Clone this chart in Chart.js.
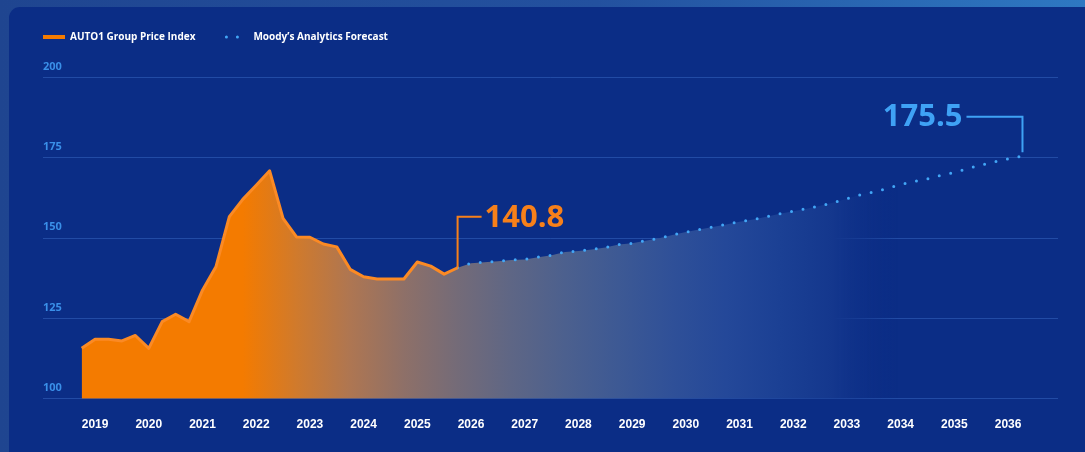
<!DOCTYPE html>
<html>
    <head>
        <title>AUTO1 Group Price Index</title>
        <meta charset="utf-8" />
        <script src="https://cdn.jsdelivr.net/npm/chart.js@4.4.1/dist/chart.umd.min.js"></script>
        <style>
            * {
                margin: 0;
                padding: 0;
                box-sizing: border-box;
            }
            html, body {
                width: 1085px;
                height: 452px;
                overflow: hidden;
            }
            body {
                position: relative;
                background: linear-gradient(90deg, #1f4590 0%, #23519f 55%, #2e78c2 100%);
            }
            #card {
                position: absolute;
                left: 9px;
                top: 7px;
                width: 1100px;
                height: 470px;
                background-color: #0b2d86;
                border-radius: 11px;
            }
            #wrap {
                position: absolute;
                left: 0;
                top: 0;
                width: 1085px;
                height: 452px;
            }
        </style>
    </head>
    <body>

        <div id="card"></div>
        <div id="wrap">
            <canvas id="myChart"></canvas>
        </div>

        <script>
            // quarterly index, 2019 Q1 = first point
            const historyQuarters = [
                '2019Q1', '2019Q2', '2019Q3', '2019Q4',
                '2020Q1', '2020Q2', '2020Q3', '2020Q4',
                '2021Q1', '2021Q2', '2021Q3', '2021Q4',
                '2022Q1', '2022Q2', '2022Q3', '2022Q4',
                '2023Q1', '2023Q2', '2023Q3', '2023Q4',
                '2024Q1', '2024Q2', '2024Q3', '2024Q4',
                '2025Q1', '2025Q2', '2025Q3', '2025Q4',
                '2026Q1'
            ];
            const historyValues = [
                115.7, 118.5, 118.5, 118.0,
                119.7, 115.7, 124.0, 126.3,
                124.0, 133.8, 141.1, 156.7,
                162.1, 166.5, 171.0, 156.2,
                150.4, 150.3, 148.2, 147.3,
                140.3, 138.0, 137.3, 137.3,
                137.3, 142.6, 141.3, 138.8,
                140.8
            ];

            const forecastQuarters = [
                '2026Q1', '2026Q2', '2026Q3', '2026Q4',
                '2027Q1', '2027Q2', '2027Q3', '2027Q4',
                '2028Q1', '2028Q2', '2028Q3', '2028Q4',
                '2029Q1', '2029Q2', '2029Q3', '2029Q4',
                '2030Q1', '2030Q2', '2030Q3', '2030Q4',
                '2031Q1', '2031Q2', '2031Q3', '2031Q4',
                '2032Q1', '2032Q2', '2032Q3', '2032Q4',
                '2033Q1', '2033Q2', '2033Q3', '2033Q4',
                '2034Q1', '2034Q2', '2034Q3', '2034Q4',
                '2035Q1', '2035Q2', '2035Q3', '2035Q4',
                '2036Q1', '2036Q2', '2036Q3'
            ];
            const forecastValues = [
                140.8, 142.2, 142.5, 142.8,
                143.2, 143.4, 144.1, 144.7,
                145.7, 146.0, 146.5, 147.1,
                148.0, 148.4, 149.2, 150.0,
                151.0, 151.9, 152.7, 153.5,
                154.3, 155.1, 155.8, 156.7,
                157.6, 158.4, 159.2, 160.1,
                161.1, 162.3, 163.5, 164.4,
                165.5, 166.7, 167.7, 168.5,
                169.6, 170.5, 171.7, 172.8,
                173.8, 174.7, 175.5
            ];

            const yearLabels = [
                '2019', '2020', '2021', '2022', '2023', '2024', '2025', '2026', '2027',
                '2028', '2029', '2030', '2031', '2032', '2033', '2034', '2035', '2036'
            ];
            const yTicks = [100, 125, 150, 175, 200];

            const seriesNames = ['AUTO1 Group Price Index', "Moody\u2019s Analytics Forecast"];

            // colours of the area under both lines, left to right
            const fillStops = [
                [2019, '#f47b00'],
                [2022, '#f47b00'],
                [2023, '#d07a2c'],
                [2024, '#ae7652'],
                [2025, '#8e7068'],
                [2026, '#746b78'],
                [2027, '#5e6685'],
                [2028, '#4c608e'],
                [2029, '#3d5994'],
                [2030, '#2f5098'],
                [2031, '#244899'],
                [2032, '#1b4094'],
                [2033, '#14378d'],
                [2034.2, 'rgba(11,45,134,0)']
            ];

            const toYear = q => parseInt(q.slice(0, 4)) + (parseInt(q.slice(5)) - 1) / 4;

            const areaFill = context => {
                const chart = context.chart;
                const area = chart.chartArea;
                if (!area) return 'transparent';
                const g = chart.ctx.createLinearGradient(area.left, 0, area.right, 0);
                const w = area.right - area.left;
                fillStops.forEach(([yr, col]) => {
                    let p = (chart.scales.x.getPixelForValue(yr) - area.left) / w;
                    g.addColorStop(Math.min(Math.max(p, 0), 1), col);
                });
                return g;
            };

            const historyPoints = historyQuarters.map((q, i) => ({ x: toYear(q), y: historyValues[i] }));
            const forecastPoints = forecastQuarters.map((q, i) => ({ x: toYear(q), y: forecastValues[i] }));

            const data = {
                datasets: [{
                    label: seriesNames[0],
                    data: historyPoints,
                    borderColor: '#fb8a24',
                    borderWidth: 3,
                    borderJoinStyle: 'round',
                    fill: false,
                    pointRadius: 0,
                    tension: 0
                }, {
                    label: seriesNames[1],
                    data: forecastPoints,
                    borderColor: '#42a6f6',
                    borderWidth: 3,
                    borderDash: [0, 11.7],
                    borderCapStyle: 'round',
                    fill: false,
                    pointRadius: 0,
                    tension: 0
                }, {
                    // one shaded area under both series, so there is no seam at 2026
                    label: 'area',
                    data: historyPoints.slice(0, -1).concat(forecastPoints),
                    borderWidth: 0,
                    borderColor: 'transparent',
                    backgroundColor: areaFill,
                    fill: 'start',
                    pointRadius: 0,
                    tension: 0
                }]
            };

            // value call-outs at the end of each line
            const callouts = {
                id: 'callouts',
                afterDatasetsDraw(chart) {
                    const ctx = chart.ctx;
                    const h = chart.getDatasetMeta(0).data;
                    const f = chart.getDatasetMeta(1).data;
                    const p1 = h[h.length - 1];
                    const p2 = f[f.length - 1];
                    ctx.save();
                    ctx.lineWidth = 2;
                    ctx.font = "bold 31px 'Open Sans', sans-serif";
                    ctx.textBaseline = 'middle';

                    ctx.strokeStyle = '#f7801a';
                    ctx.fillStyle = '#f7801a';
                    ctx.beginPath();
                    ctx.moveTo(p1.x, p1.y);
                    ctx.lineTo(p1.x, p1.y - 51);
                    ctx.lineTo(p1.x + 24, p1.y - 51);
                    ctx.stroke();
                    ctx.textAlign = 'left';
                    ctx.fillText(historyValues[historyValues.length - 1].toFixed(1), p1.x + 27, p1.y - 50);

                    ctx.strokeStyle = '#3fa2f5';
                    ctx.fillStyle = '#3fa2f5';
                    ctx.beginPath();
                    ctx.moveTo(p2.x + 1, p2.y - 4);
                    ctx.lineTo(p2.x + 1, p2.y - 39.5);
                    ctx.lineTo(p2.x - 55, p2.y - 39.5);
                    ctx.stroke();
                    ctx.textAlign = 'right';
                    ctx.fillText(forecastValues[forecastValues.length - 1].toFixed(1), p2.x - 59, p2.y - 39);
                    ctx.restore();
                }
            };

            // extra room under the legend
            const legendSpacer = {
                id: 'legendSpacer',
                beforeInit(chart) {
                    const fit = chart.legend.fit;
                    chart.legend.fit = function () {
                        fit.bind(chart.legend)();
                        this.height += 25.7;
                    };
                }
            };

            const chartConfig = {
                type: 'line',
                data,
                options: {
                    responsive: true,
                    maintainAspectRatio: false,
                    animation: false,
                    devicePixelRatio: 1,
                    layout: {
                        padding: { left: 12, right: 27, top: 1, bottom: 0 }
                    },
                    plugins: {
                        tooltip: { enabled: false },
                        legend: {
                            position: 'top',
                            align: 'start',
                            labels: {
                                color: '#ffffff',
                                font: { family: "'Open Sans', sans-serif", size: 10, weight: 'bold' },
                                usePointStyle: true,
                                pointStyleWidth: 22,
                                padding: 31,
                                generateLabels: chart => chart.data.datasets.slice(0, 2).map((ds, i) => ({
                                    text: ds.label,
                                    datasetIndex: i,
                                    pointStyle: 'line',
                                    strokeStyle: i === 0 ? '#f47b00' : ds.borderColor,
                                    fillStyle: ds.borderColor,
                                    lineWidth: i === 0 ? 4 : 3,
                                    lineDash: i === 0 ? [] : [0, 11],
                                    lineCap: i === 0 ? 'butt' : 'round',
                                    fontColor: '#ffffff',
                                    hidden: false
                                }))
                            }
                        }
                    },
                    scales: {
                        x: {
                            type: 'linear',
                            min: 2018.28,
                            max: 2037.18,
                            grid: { display: false },
                            border: { display: false },
                            afterBuildTicks: axis => {
                                axis.ticks = yearLabels.map(l => ({ value: Number(l) + 0.25 }));
                            },
                            afterFit: axis => {
                                axis.height = 53.3;
                                axis.paddingLeft = 0;
                                axis.paddingRight = 0;
                            },
                            ticks: {
                                autoSkip: false,
                                maxRotation: 0,
                                padding: 11,
                                color: '#ffffff',
                                font: { family: "'Liberation Sans', Arial, sans-serif", size: 12, weight: 'bold' },
                                callback: (v, i) => yearLabels[i]
                            }
                        },
                        y: {
                            min: 100,
                            max: 200,
                            afterBuildTicks: axis => {
                                axis.ticks = yTicks.map(v => ({ value: v }));
                            },
                            afterFit: axis => {
                                axis.width = 31;
                                axis.paddingTop = 0;
                                axis.paddingBottom = 0;
                            },
                            grid: { color: 'rgba(62,112,205,0.45)', lineWidth: 1, drawTicks: false },
                            border: { display: false },
                            ticks: {
                                mirror: true,
                                padding: 0,
                                labelOffset: -11,
                                color: '#3a8fe8',
                                font: { family: "'Open Sans', sans-serif", size: 11, weight: 'bold' }
                            }
                        }
                    }
                },
                plugins: [callouts, legendSpacer]
            };

            var myChart = new Chart(
                document.getElementById('myChart'),
                chartConfig
            );
        </script>
    </body>
</html>
